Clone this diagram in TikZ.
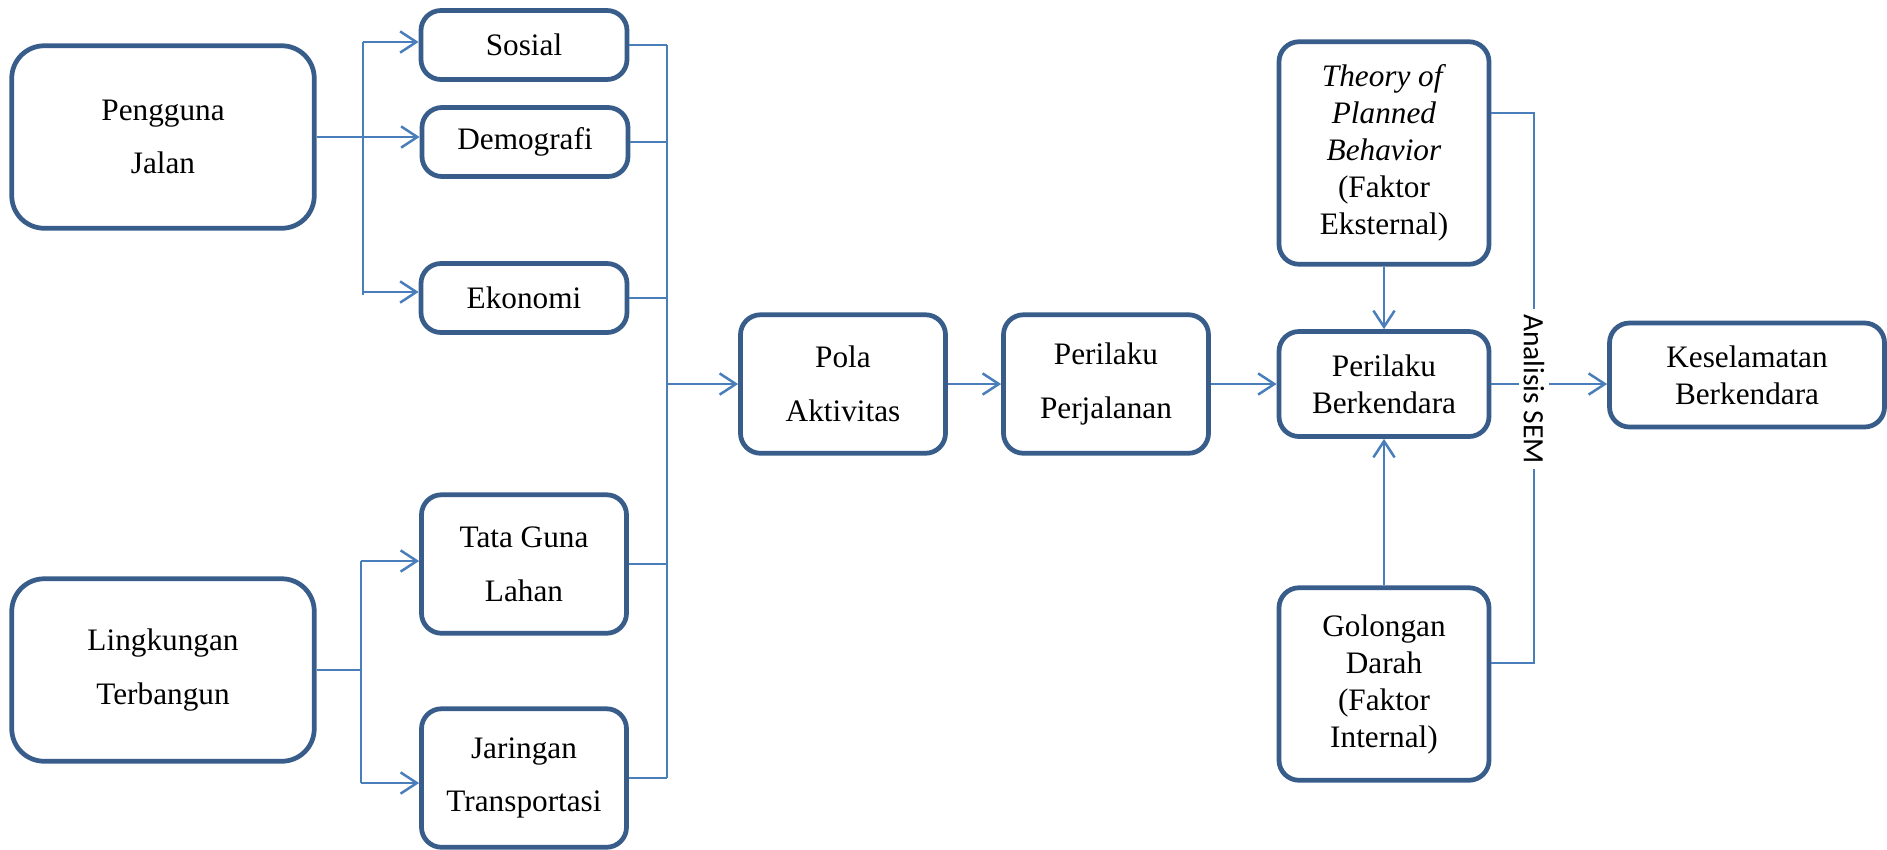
\documentclass[tikz,border=0pt]{standalone}
\usepackage{fontspec}
\setmainfont{Liberation Serif}
\newfontfamily\semfont{Carlito}
\usetikzlibrary{arrows.meta,positioning,calc}
\definecolor{boxblue}{RGB}{56,93,138}
\definecolor{linkblue}{RGB}{74,126,187}

\begin{document}
\begin{tikzpicture}[
    x=0.4pt, y=-0.4pt,
    % --- Box styles ---
    box/.style={draw=boxblue, line width=1.9pt, rounded corners=8pt, fill=white,
      align=center, inner sep=0pt, font=\fontsize{12.5}{21.5}\selectfont},
    bigbox/.style={box, rounded corners=13pt, minimum width=121pt, minimum height=73pt},
    smallbox/.style={box, minimum width=82.4pt, minimum height=27.6pt},
    midbox/.style={box, minimum width=82pt, minimum height=55.4pt},
    tightbox/.style={box, font=\fontsize{12.5}{14.8}\selectfont, minimum width=84pt},
    semlabel/.style={font=\semfont\fontsize{11.8}{14}\selectfont, rotate=-90,
      fill=white, inner sep=2pt},
    % --- Connector styles ---
    link/.style={draw=linkblue, line width=1pt},
    arr/.style={link, -{Straight Barb[length=6.5pt, width=8.5pt]}},
]
\useasboundingbox (0,0) rectangle (1887,849);

% === Sources ===
\node[bigbox] (peng) at (163,137) {Pengguna\\Jalan};
\node[bigbox] (ling) at (163,670) {Lingkungan\\Terbangun};

% === Factors ===
\node[smallbox] (sosial) at (524,45) {Sosial};
\node[smallbox] (demo) at (525,142) {Demografi};
\node[smallbox] (eko) at (524,298) {Ekonomi};
\node[midbox] (tata) at (524,564) {Tata Guna\\Lahan};
\node[midbox] (jar) at (524,778) {Jaringan\\Transportasi};

% === Main chain ===
\node[midbox] (pola) at (843,384) {Pola\\Aktivitas};
\node[midbox] (perj) at (1106,384) {Perilaku\\Perjalanan};
\node[tightbox, minimum height=42pt] (berk) at (1384,384) {Perilaku\\Berkendara};
\node[tightbox, minimum height=89pt] (tpb) at (1384,153)
  {\textit{Theory of}\\\textit{Planned}\\\textit{Behavior}\\(Faktor\\Eksternal)};
\node[tightbox, minimum height=77pt] (gol) at (1384,684)
  {Golongan\\Darah\\(Faktor\\Internal)};
\node[tightbox, minimum width=110pt, minimum height=41.6pt] (kes) at (1747,375)
  {Keselamatan\\Berkendara};

% === Forks ===
\coordinate (tfork) at (363,0);
\coordinate (bfork) at (361,0);
\coordinate (col) at (667,0);

\draw[arr] (peng.east) -- (demo.west |- peng.east);
\draw[link] (tfork |- 0,42) -- (tfork |- 0,295);
\draw[arr] (tfork |- 0,42) -- (sosial.west |- 0,42);
\draw[arr] (tfork |- 0,292) -- (eko.west |- 0,292);

\draw[link] (ling.east) -- (bfork |- ling.east);
\draw[link] (bfork |- 0,561) -- (bfork |- 0,783);
\draw[arr] (bfork |- 0,561) -- (tata.west |- 0,561);
\draw[arr] (bfork |- 0,783) -- (jar.west |- 0,783);

% === Collector ===
\foreach \src in {sosial,demo,eko,tata,jar}
  \draw[link] (\src.east) -- (col |- \src.east);
\draw[link] (col |- sosial.east) -- (col |- jar.east);
\draw[arr] (col |- pola.west) -- (pola.west);

\draw[arr] (pola) -- (perj);
\draw[arr] (perj) -- (berk);
\draw[arr] (tpb) -- (berk);
\draw[arr] (gol) -- (berk);

% === SEM ===
\draw[arr] (berk.east) -- (kes.west |- berk.east);
\node[semlabel] (sem) at (1534,389) {Analisis SEM};
\draw[link] (tpb.east |- 0,113) -| (sem.west);
\draw[link] (gol.east |- 0,663) -| (sem.east);

\end{tikzpicture}
\end{document}
